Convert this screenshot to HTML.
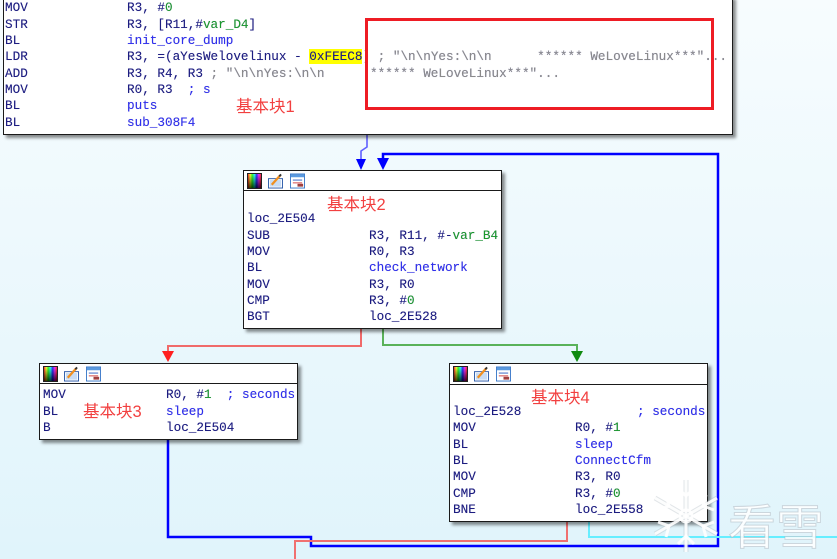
<!DOCTYPE html>
<html><head><meta charset="utf-8">
<style>
*{margin:0;padding:0;box-sizing:border-box}
html,body{width:837px;height:559px;overflow:hidden}
#pg{position:relative;width:837px;height:559px;overflow:hidden;background:linear-gradient(to bottom,#f7fcfe 0%,#eef9fd 40%,#e0f4fb 100%)}
.blk{position:absolute;background:#fff;border:1px solid #1a1a1a;box-shadow:3px 3px 3px rgba(0,0,0,0.45)}
.hd{position:absolute;left:0;right:0;top:0;height:20px;border-bottom:1px solid #1a1a1a;background:#fff}
.t{position:absolute;font-family:"Liberation Mono",monospace;font-size:12.67px;line-height:16px;white-space:pre;color:#1c1c80;text-shadow:0 0 0.4px rgba(28,28,128,0.6)}
.b{color:#2f2ff0}
.g{color:#1a9a2a}
.gr{color:#8a8a8a}
.hl{background:#ffff00}
.lab{position:absolute;font-family:"Liberation Sans","Noto Sans CJK SC",sans-serif;font-size:16.5px;line-height:18px;color:#f24040;white-space:pre}
.ic{position:absolute;top:2px;width:15px;height:16px}
.ic1{border:1px solid #222;background:linear-gradient(to bottom,rgba(255,255,255,0.2),rgba(0,0,0,0.75)),linear-gradient(to right,#f00,#ff0,#0f0,#0ff,#00f,#f0f,#f00)}
</style></head>
<body><div id="pg">

<svg width="837" height="559" style="position:absolute;left:0;top:0">
  <polyline points="168,439 168,537 311,537 311,546 718,546 718,154 383,154 383,160" fill="none" stroke="#0000ff" stroke-width="2.5"/>
  <polygon points="377,158 389,158 383,170" fill="#0000ff"/>
  <polyline points="367,134 367,147 361,151 361,160" fill="none" stroke="#6060ff" stroke-width="1.6"/>
  <polygon points="356,159 366,159 361,170" fill="#0000ff"/>
  <polyline points="361,329 361,346 168,346 168,353" fill="none" stroke="#f06a6a" stroke-width="2"/>
  <polygon points="162,351 174,351 168,362" fill="#ff2020"/>
  <polyline points="383,329 383,345 577,345 577,353" fill="none" stroke="#5ab25a" stroke-width="2"/>
  <polygon points="571,351 583,351 577,362" fill="#108a10"/>
  <polyline points="567,521 567,541 295,541 295,560" fill="none" stroke="#f07070" stroke-width="2"/>
  <polyline points="589,521 589,537 837,537" fill="none" stroke="#66eeff" stroke-width="2"/>
</svg>

<!-- Block 1 -->
<div class="blk" style="left:3px;top:-4px;width:730px;height:139px"></div>
<div class="t" style="left:5px;top:0px">MOV</div><div class="t" style="left:127px;top:0px">R3, #<span class="g">0</span></div>
<div class="t" style="left:5px;top:17px">STR</div><div class="t" style="left:127px;top:17px">R3, [R11,#<span class="g">var_D4</span>]</div>
<div class="t" style="left:5px;top:33px">BL</div><div class="t b" style="left:127px;top:33px">init_core_dump</div>
<div class="t" style="left:5px;top:49px">LDR</div><div class="t" style="left:127px;top:49px">R3, =(aYesWelovelinux - <span class="hl">0xFEEC8</span>) <span class="gr">; "\n\nYes:\n\n      ****** WeLoveLinux***"...</span></div>
<div class="t" style="left:5px;top:66px">ADD</div><div class="t" style="left:127px;top:66px">R3, R4, R3 <span class="gr">; "\n\nYes:\n\n      ****** WeLoveLinux***"...</span></div>
<div class="t" style="left:5px;top:82px">MOV</div><div class="t" style="left:127px;top:82px">R0, R3  <span class="b">; s</span></div>
<div class="t" style="left:5px;top:98px">BL</div><div class="t b" style="left:127px;top:98px">puts</div>
<div class="t" style="left:5px;top:115px">BL</div><div class="t b" style="left:127px;top:115px">sub_308F4</div>
<div class="lab" style="left:236px;top:98px">基本块1</div>
<div style="position:absolute;left:365px;top:18px;width:349px;height:92px;border:3px solid #ee1c24"></div>

<!-- Block 2 -->
<div class="blk" style="left:243px;top:170px;width:259px;height:159px">
  <div class="hd">
    <div class="ic ic1" style="left:3px"></div>
    <svg class="ic" style="left:24px" width="16" height="16" viewBox="0 0 16 16"><rect x="0.5" y="5.5" width="15" height="10" fill="#fff" stroke="#2a5aa8"/><rect x="2" y="7" width="12" height="7" fill="#c8dcf4"/><line x1="4" y1="12" x2="13" y2="2" stroke="#f09020" stroke-width="2.5"/><line x1="12" y1="3" x2="14" y2="1" stroke="#333" stroke-width="2"/></svg>
    <svg class="ic" style="left:46px" width="16" height="16" viewBox="0 0 16 16"><rect x="0.5" y="0.5" width="15" height="15" fill="#fff" stroke="#3a78c8"/><rect x="1" y="1" width="14" height="3" fill="#5a9ae0"/><line x1="3" y1="7" x2="13" y2="7" stroke="#3060c0"/><line x1="3" y1="10" x2="13" y2="10" stroke="#d04040"/><rect x="8" y="11" width="6" height="3" fill="#a04040"/></svg>
  </div>
</div>
<div class="lab" style="left:327px;top:196px">基本块2</div>
<div class="t" style="left:247px;top:211px">loc_2E504</div>
<div class="t" style="left:247px;top:228px">SUB</div><div class="t" style="left:369px;top:228px">R3, R11, #-<span class="g">var_B4</span></div>
<div class="t" style="left:247px;top:244px">MOV</div><div class="t" style="left:369px;top:244px">R0, R3</div>
<div class="t" style="left:247px;top:260px">BL</div><div class="t b" style="left:369px;top:260px">check_network</div>
<div class="t" style="left:247px;top:277px">MOV</div><div class="t" style="left:369px;top:277px">R3, R0</div>
<div class="t" style="left:247px;top:293px">CMP</div><div class="t" style="left:369px;top:293px">R3, #<span class="g">0</span></div>
<div class="t" style="left:247px;top:309px">BGT</div><div class="t" style="left:369px;top:309px">loc_2E528</div>

<!-- Block 3 -->
<div class="blk" style="left:39px;top:363px;width:259px;height:77px">
  <div class="hd">
    <div class="ic ic1" style="left:3px"></div>
    <svg class="ic" style="left:24px" width="16" height="16" viewBox="0 0 16 16"><rect x="0.5" y="5.5" width="15" height="10" fill="#fff" stroke="#2a5aa8"/><rect x="2" y="7" width="12" height="7" fill="#c8dcf4"/><line x1="4" y1="12" x2="13" y2="2" stroke="#f09020" stroke-width="2.5"/><line x1="12" y1="3" x2="14" y2="1" stroke="#333" stroke-width="2"/></svg>
    <svg class="ic" style="left:46px" width="16" height="16" viewBox="0 0 16 16"><rect x="0.5" y="0.5" width="15" height="15" fill="#fff" stroke="#3a78c8"/><rect x="1" y="1" width="14" height="3" fill="#5a9ae0"/><line x1="3" y1="7" x2="13" y2="7" stroke="#3060c0"/><line x1="3" y1="10" x2="13" y2="10" stroke="#d04040"/><rect x="8" y="11" width="6" height="3" fill="#a04040"/></svg>
  </div>
</div>
<div class="t" style="left:43px;top:387px">MOV</div><div class="t" style="left:166px;top:387px">R0, #<span class="g">1</span>  <span class="b">; seconds</span></div>
<div class="t" style="left:43px;top:404px">BL</div><div class="t b" style="left:166px;top:404px">sleep</div>
<div class="t" style="left:43px;top:420px">B</div><div class="t" style="left:166px;top:420px">loc_2E504</div>
<div class="lab" style="left:83px;top:403px">基本块3</div>

<!-- Block 4 -->
<div class="blk" style="left:449px;top:363px;width:259px;height:159px">
  <div class="hd" style="height:21px">
    <div class="ic ic1" style="left:3px"></div>
    <svg class="ic" style="left:24px" width="16" height="16" viewBox="0 0 16 16"><rect x="0.5" y="5.5" width="15" height="10" fill="#fff" stroke="#2a5aa8"/><rect x="2" y="7" width="12" height="7" fill="#c8dcf4"/><line x1="4" y1="12" x2="13" y2="2" stroke="#f09020" stroke-width="2.5"/><line x1="12" y1="3" x2="14" y2="1" stroke="#333" stroke-width="2"/></svg>
    <svg class="ic" style="left:46px" width="16" height="16" viewBox="0 0 16 16"><rect x="0.5" y="0.5" width="15" height="15" fill="#fff" stroke="#3a78c8"/><rect x="1" y="1" width="14" height="3" fill="#5a9ae0"/><line x1="3" y1="7" x2="13" y2="7" stroke="#3060c0"/><line x1="3" y1="10" x2="13" y2="10" stroke="#d04040"/><rect x="8" y="11" width="6" height="3" fill="#a04040"/></svg>
  </div>
</div>
<div class="lab" style="left:531px;top:389px">基本块4</div>
<div class="t" style="left:453px;top:404px">loc_2E528</div><div class="t b" style="left:637px;top:404px">; seconds</div>
<div class="t" style="left:453px;top:420px">MOV</div><div class="t" style="left:575px;top:420px">R0, #<span class="g">1</span></div>
<div class="t" style="left:453px;top:437px">BL</div><div class="t b" style="left:575px;top:437px">sleep</div>
<div class="t" style="left:453px;top:453px">BL</div><div class="t b" style="left:575px;top:453px">ConnectCfm</div>
<div class="t" style="left:453px;top:469px">MOV</div><div class="t" style="left:575px;top:469px">R3, R0</div>
<div class="t" style="left:453px;top:486px">CMP</div><div class="t" style="left:575px;top:486px">R3, #<span class="g">0</span></div>
<div class="t" style="left:453px;top:502px">BNE</div><div class="t" style="left:575px;top:502px">loc_2E558</div>

<!-- watermark -->
<svg width="837" height="559" style="position:absolute;left:0;top:0;pointer-events:none">
  <g fill="none" transform="translate(686,516)">
    <g stroke="rgba(170,180,190,0.35)" stroke-width="5">
      <line x1="0" y1="-36" x2="0" y2="36"/>
      <line x1="-31" y1="-18" x2="31" y2="18"/>
      <line x1="-31" y1="18" x2="31" y2="-18"/>
    </g>
    <g stroke="rgba(255,255,255,0.9)" stroke-width="3">
      <line x1="0" y1="-36" x2="0" y2="36"/>
      <line x1="-31" y1="-18" x2="31" y2="18"/>
      <line x1="-31" y1="18" x2="31" y2="-18"/>
      <polyline points="-8,-28 0,-20 8,-28"/>
      <polyline points="-8,28 0,20 8,28"/>
      <polyline points="-28,-6 -17,-10 -20,-21"/>
      <polyline points="28,6 17,10 20,21"/>
      <polyline points="28,-6 17,-10 20,-21"/>
      <polyline points="-28,6 -17,10 -20,21"/>
      <circle cx="0" cy="0" r="6"/>
    </g>
  </g>
  <text x="728" y="544" font-family="Noto Sans CJK SC, sans-serif" font-size="48" fill="rgba(255,255,255,0.85)" stroke="rgba(170,180,190,0.5)" stroke-width="1">看雪</text>
</svg>

</div></body></html>
